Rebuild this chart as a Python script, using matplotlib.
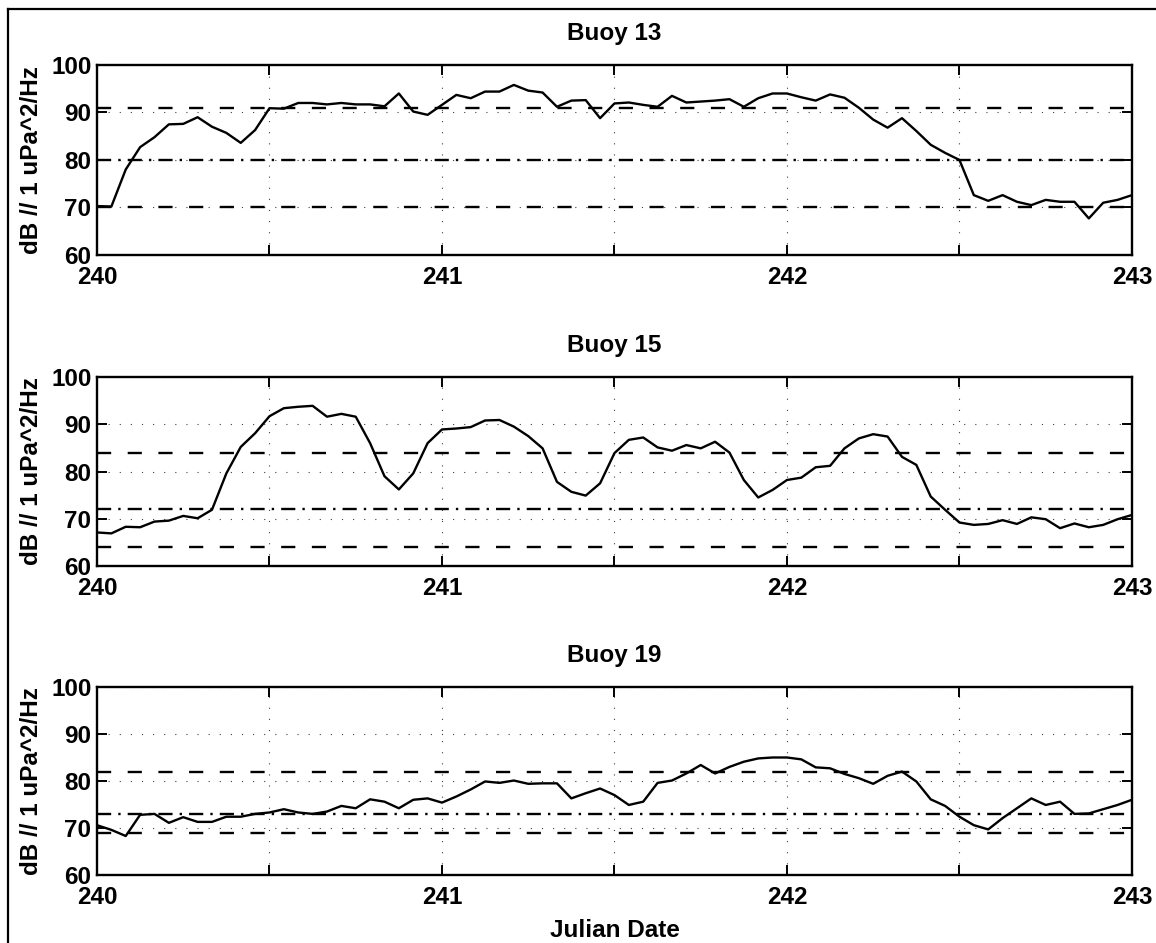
import matplotlib.pyplot as plt
from matplotlib.lines import Line2D
import numpy as np

plt.rcParams['font.family'] = ['Liberation Sans', 'DejaVu Sans']
plt.rcParams['font.weight'] = 'bold'
plt.rcParams['axes.labelweight'] = 'bold'

# hourly samples over three days
start_day = 240
hours = np.arange(73)
julian = start_day + hours / 24

buoy_names = ['Buoy 13', 'Buoy 15', 'Buoy 19']

buoy13 = [70.3, 70.2, 78.0, 82.7, 84.8, 87.5, 87.6, 89.0, 87.0, 85.7,
          83.6, 86.3, 90.9, 90.8, 92.0, 92.0, 91.7, 92.0, 91.7, 91.7,
          91.3, 94.0, 90.2, 89.5, 91.6, 93.7, 93.0, 94.4, 94.4, 95.8,
          94.6, 94.2, 91.2, 92.5, 92.6, 88.8, 91.9, 92.1, 91.6, 91.2,
          93.5, 92.1, 92.3, 92.5, 92.8, 91.2, 93.0, 94.0, 94.0, 93.2,
          92.5, 93.8, 93.1, 91.0, 88.5, 86.8, 88.8, 86.1, 83.2, 81.5,
          80.0, 72.6, 71.4, 72.6, 71.2, 70.5, 71.6, 71.2, 71.2, 67.7,
          71.0, 71.6, 72.6]

buoy15 = [67.1, 66.9, 68.3, 68.2, 69.4, 69.6, 70.6, 70.1, 71.9, 79.6,
          85.2, 88.1, 91.7, 93.4, 93.7, 93.9, 91.6, 92.2, 91.6, 86.0,
          79.0, 76.2, 79.6, 86.0, 88.9, 89.1, 89.4, 90.8, 90.9, 89.5,
          87.5, 84.9, 77.8, 75.7, 74.9, 77.5, 83.9, 86.7, 87.2, 85.1,
          84.4, 85.6, 84.9, 86.3, 84.0, 78.2, 74.5, 76.1, 78.2, 78.7,
          80.9, 81.2, 84.9, 87.0, 87.9, 87.4, 83.1, 81.4, 74.7, 71.9,
          69.2, 68.7, 68.9, 69.7, 68.9, 70.3, 69.9, 68.0, 69.0, 68.2,
          68.7, 69.9, 70.8]

buoy19 = [70.6, 69.6, 68.3, 72.8, 73.0, 71.1, 72.3, 71.3, 71.3, 72.4,
          72.4, 73.0, 73.3, 74.0, 73.3, 73.0, 73.5, 74.7, 74.2, 76.1,
          75.6, 74.2, 76.0, 76.3, 75.4, 76.7, 78.2, 79.9, 79.6, 80.1,
          79.4, 79.5, 79.5, 76.3, 77.4, 78.4, 77.0, 74.9, 75.6, 79.6,
          80.1, 81.6, 83.4, 81.6, 83.0, 84.1, 84.8, 85.0, 85.0, 84.6,
          82.9, 82.7, 81.5, 80.6, 79.4, 81.1, 82.0, 79.9, 76.1, 74.7,
          72.4, 70.6, 69.7, 72.1, 74.2, 76.3, 74.9, 75.6, 73.0, 73.1,
          74.0, 74.9, 76.0]

upper_levels = [91, 84, 82]
middle_levels = [80, 72, 73]
lower_levels = [70, 64, 69]

x_ticks = [240, 240.5, 241, 241.5, 242, 242.5, 243]
x_tick_labels = ['240', '', '241', '', '242', '', '243']
y_ticks = [60, 70, 80, 90, 100]

panel_boxes = [
    (0.0839, 0.7296, 0.8953, 0.2015),
    (0.0839, 0.3998, 0.8953, 0.2004),
    (0.0839, 0.0721, 0.8953, 0.1994),
]

FS = 17.5


def draw_panel(ax, name, values, upper, middle, lower, last):
    ax.plot(julian, values, color='black', lw=1.7, zorder=5)

    ax.axhline(upper, color='black', lw=1.7, dashes=(6, 7), zorder=4)
    ax.axhline(middle, color='black', lw=1.7, dashes=(6, 3, 1, 3), zorder=4)
    ax.axhline(lower, color='black', lw=1.7, dashes=(6, 7), zorder=4)

    ax.set_xlim(240, 243)
    ax.set_ylim(60, 100)
    ax.set_xticks(x_ticks)
    ax.set_xticklabels(x_tick_labels)
    ax.set_yticks(y_ticks)

    ax.grid(True, color='0.25', lw=0.8, dashes=(1, 9))

    ax.tick_params(direction='in', top=True, right=True, length=7,
                   width=1.4, labelsize=FS)
    ax.tick_params(axis='x', pad=8)
    ax.tick_params(axis='y', pad=4)
    for spine in ax.spines.values():
        spine.set_linewidth(1.7)

    ax.set_title(name, fontsize=FS, fontweight='bold', pad=18)
    ax.set_ylabel('dB // 1 uPa^2/Hz', fontsize=FS, labelpad=6)
    if last:
        ax.set_xlabel('Julian Date', fontsize=FS, labelpad=7)


fig = plt.figure(figsize=(11.56, 9.43), dpi=100)

series = [buoy13, buoy15, buoy19]
for i, box in enumerate(panel_boxes):
    ax = fig.add_axes(box)
    draw_panel(ax, buoy_names[i], series[i], upper_levels[i],
               middle_levels[i], lower_levels[i], i == len(panel_boxes) - 1)

# scanned page frame (left and top edges)
fig.add_artist(Line2D([0.0069, 0.0069], [0, 0.9905],
                      transform=fig.transFigure, color='black', lw=1.6))
fig.add_artist(Line2D([0.0069, 1.0], [0.9905, 0.9905],
                      transform=fig.transFigure, color='black', lw=1.6))

plt.savefig('out.png', dpi=100)
